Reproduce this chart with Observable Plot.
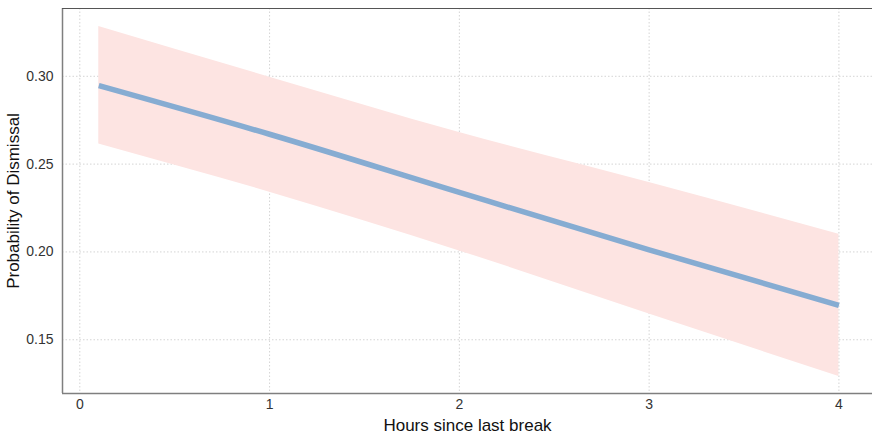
<!DOCTYPE html>
<html>
<head>
<meta charset="utf-8">
<script src="https://cdn.jsdelivr.net/npm/d3@7"></script>
<script src="https://cdn.jsdelivr.net/npm/@observablehq/plot@0.6"></script>
<style>
  html, body { margin: 0; padding: 0; background: #fff; }
  svg { display: block; }
</style>
</head>
<body>
<div id="chart"></div>
<script>
const hours = [0.1, 1, 2, 3, 4];
const fit   = [0.2947, 0.2670, 0.2339, 0.2012, 0.1696];
const upper = [0.3283, 0.2995, 0.2680, 0.2395, 0.2101];
const lower = [0.2615, 0.2340, 0.2006, 0.1646, 0.1291];
const xTicks = [0, 1, 2, 3, 4];
const yTicks = [0.15, 0.20, 0.25, 0.30];

const data = hours.map((h, i) => ({h, fit: fit[i], lo: lower[i], hi: upper[i]}));
const xDomain = [-0.0912, 4.177];
const yDomain = [0.1194, 0.3386];

const chart = Plot.plot({
  width: 872,
  height: 435,
  marginLeft: 62,
  marginRight: 0,
  marginTop: 8,
  marginBottom: 42,
  style: {fontFamily: "'Liberation Sans', Arial, sans-serif", fontSize: "14px", color: "#333", background: "#fff"},
  x: {domain: xDomain, label: null},
  y: {domain: yDomain, label: null},
  marks: [
    Plot.gridX(xTicks, {stroke: "#d4d4d4", strokeOpacity: 1, strokeDasharray: "1.5,2", strokeWidth: 1}),
    Plot.gridY(yTicks, {stroke: "#d4d4d4", strokeOpacity: 1, strokeDasharray: "1.5,2", strokeWidth: 1}),
    Plot.areaY(data, {x: "h", y1: "lo", y2: "hi", fill: "#fde4e2", fillOpacity: 1, curve: "monotone-x"}),
    Plot.lineY(data, {x: "h", y: "fit", stroke: "#86acd2", strokeWidth: 5.5, strokeLinecap: "butt", curve: "monotone-x"}),
    Plot.axisX(xTicks, {tickSize: 0, tickPadding: 6, fontSize: 14, fill: "#333", label: null, tickFormat: d => d3.format("d")(d)}),
    Plot.axisY(yTicks, {tickSize: 0, tickPadding: 9, fontSize: 14, fill: "#333", label: null, tickFormat: d => d3.format(".2f")(d)}),
    Plot.ruleX([xDomain[0]], {stroke: "#7f7f7f", strokeWidth: 1.5}),
    Plot.ruleY([yDomain[0]], {stroke: "#7f7f7f", strokeWidth: 1.5}),
    Plot.ruleY([yDomain[1]], {stroke: "#555", strokeWidth: 1}),
    Plot.text(["Hours since last break"], {frameAnchor: "bottom", lineAnchor: "middle", textAnchor: "middle", dy: 32, fontSize: 17, fill: "#111"}),
    Plot.text(["Probability of Dismissal"], {frameAnchor: "left", textAnchor: "middle", lineAnchor: "middle", dx: -49, rotate: -90, fontSize: 17, fill: "#111"})
  ]
});
document.getElementById("chart").appendChild(chart);
</script>
</body>
</html>
